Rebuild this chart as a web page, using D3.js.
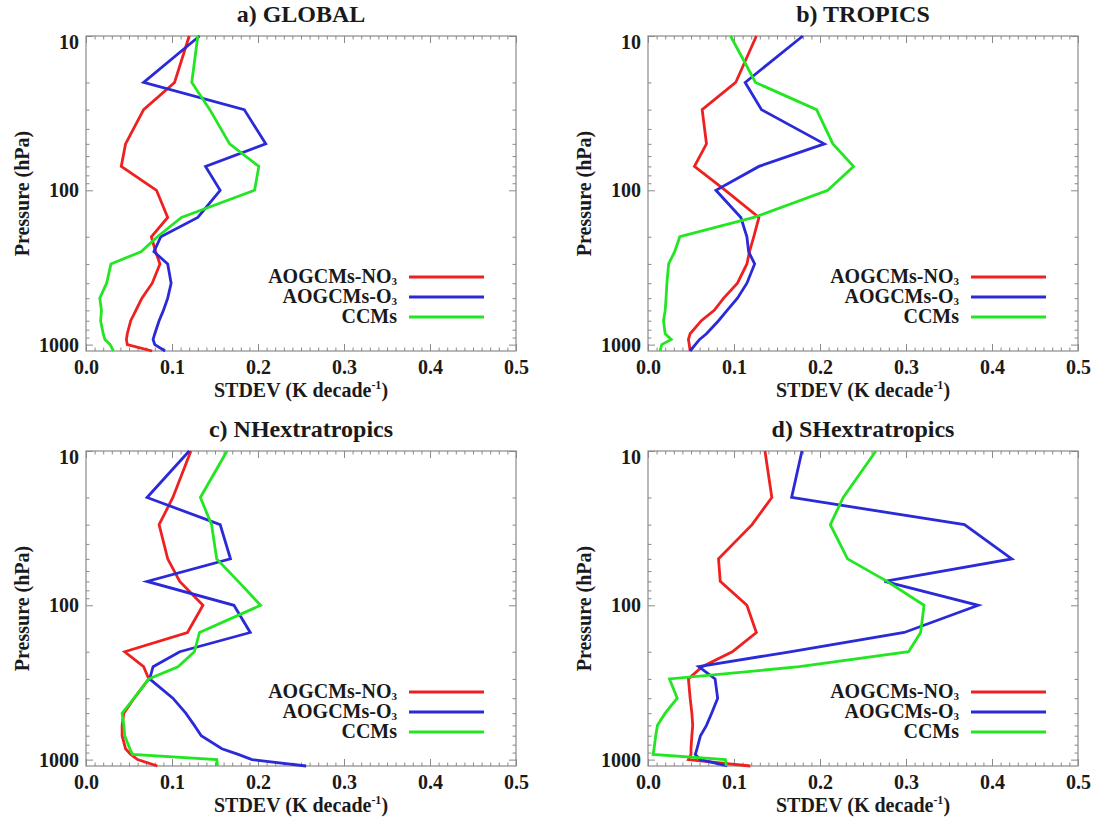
<!DOCTYPE html>
<html>
<head>
<meta charset="utf-8">
<script src="https://cdn.jsdelivr.net/npm/d3@7"></script>
<style>
  body { margin: 0; background: #fff; }
  svg text { font-family: "Liberation Serif", "Times New Roman", serif; font-weight: bold; fill: #1a1a1a; }
</style>
</head>
<body>
<script>
// pressure levels (hPa); last level is the surface, drawn at the bottom of the frame
var levels = [10, 20, 30, 50, 70, 100, 150, 200, 250, 300, 400, 500, 600, 700, 850, 925, 1000, 1100];

var seriesNames = ["AOGCMs-NO", "AOGCMs-O", "CCMs"];
var seriesSubs = ["3", "3", ""];
var seriesColors = ["#ee2020", "#2a2ad8", "#22e622"];

// a) GLOBAL
var globalNO3 = [0.120, 0.103, 0.067, 0.046, 0.041, 0.082, 0.095, 0.076, 0.081, 0.086, 0.077, 0.065, 0.058, 0.052, 0.048, 0.047, 0.048, 0.077];
var globalO3  = [0.132, 0.067, 0.184, 0.209, 0.139, 0.156, 0.130, 0.087, 0.079, 0.095, 0.099, 0.095, 0.090, 0.085, 0.080, 0.078, 0.080, 0.092];
var globalCCM = [0.130, 0.123, 0.144, 0.167, 0.201, 0.196, 0.111, 0.083, 0.064, 0.029, 0.024, 0.016, 0.018, 0.017, 0.020, 0.022, 0.028, 0.032];

// b) TROPICS
var tropNO3 = [0.126, 0.102, 0.063, 0.068, 0.054, 0.090, 0.129, 0.123, 0.118, 0.115, 0.104, 0.088, 0.077, 0.062, 0.049, 0.047, 0.048, 0.049];
var tropO3  = [0.180, 0.113, 0.132, 0.205, 0.129, 0.079, 0.108, 0.115, 0.117, 0.124, 0.115, 0.104, 0.092, 0.082, 0.068, 0.060, 0.055, 0.049];
var tropCCM = [0.096, 0.125, 0.196, 0.215, 0.239, 0.209, 0.123, 0.037, 0.031, 0.024, 0.022, 0.021, 0.020, 0.018, 0.020, 0.027, 0.016, 0.014];

// c) NHextratropics
var nhNO3 = [0.122, 0.101, 0.085, 0.095, 0.109, 0.136, 0.118, 0.045, 0.067, 0.073, 0.056, 0.044, 0.042, 0.042, 0.046, 0.052, 0.060, 0.083];
var nhO3  = [0.120, 0.071, 0.156, 0.168, 0.071, 0.172, 0.191, 0.109, 0.078, 0.074, 0.101, 0.116, 0.126, 0.134, 0.158, 0.177, 0.193, 0.256];
var nhCCM = [0.164, 0.133, 0.146, 0.152, 0.177, 0.203, 0.132, 0.126, 0.107, 0.073, 0.056, 0.042, 0.044, 0.045, 0.051, 0.054, 0.152, 0.153];

// d) SHextratropics
var shNO3 = [0.136, 0.144, 0.121, 0.082, 0.084, 0.115, 0.126, 0.098, 0.063, 0.047, 0.049, 0.051, 0.052, 0.051, 0.050, 0.050, 0.047, 0.119];
var shO3  = [0.179, 0.167, 0.368, 0.423, 0.275, 0.384, 0.298, 0.165, 0.059, 0.078, 0.081, 0.074, 0.068, 0.061, 0.057, 0.055, 0.061, 0.092];
var shCCM = [0.265, 0.227, 0.212, 0.232, 0.278, 0.321, 0.317, 0.303, 0.176, 0.025, 0.034, 0.020, 0.011, 0.009, 0.007, 0.006, 0.090, 0.091];

var panelTitles = ["a) GLOBAL", "b) TROPICS", "c) NHextratropics", "d) SHextratropics"];
var panelData = [
  [globalNO3, globalO3, globalCCM],
  [tropNO3, tropO3, tropCCM],
  [nhNO3, nhO3, nhCCM],
  [shNO3, shO3, shCCM]
];

var xMajor = [0, 0.1, 0.2, 0.3, 0.4, 0.5];
var yMajor = [10, 100, 1000];

var width = 1096, height = 819;
var pw = 430, ph = 315;
var origins = [[86, 36], [648, 36], [86, 451], [648, 451]];

var svg = d3.select("body").append("svg")
    .attr("width", width)
    .attr("height", height);

var x = d3.scaleLinear().domain([0, 0.5]).range([0, pw]);
var y = d3.scaleLog().domain([10, 1100]).range([0, ph]);

var xMinor = d3.range(0, 51).map(function(i) { return i / 100; })
    .filter(function(v) { return Math.round(v * 100) % 10 != 0; });
var yMinor = [];
[10, 100].forEach(function(d) {
  for (var k = 2; k <= 9; k++) yMinor.push(d * k);
});

var line = d3.line()
    .x(function(d) { return x(d[0]); })
    .y(function(d) { return y(d[1]); });

panelData.forEach(function(series, i) {
  var g = svg.append("g")
      .attr("transform", "translate(" + origins[i][0] + "," + origins[i][1] + ")");

  // ticks pointing inward on all four sides
  function ticks(axis, tx, ty, vals, size, fmt) {
    var a = g.append("g")
        .attr("transform", "translate(" + tx + "," + ty + ")")
        .call(axis.tickValues(vals).tickSize(-size).tickFormat(fmt));
    a.select(".domain").remove();
    a.selectAll("line").attr("stroke", "#8a8a8a").attr("stroke-width", 1);
    return a;
  }
  var none = function() { return ""; };
  var fx = d3.format(".1f");

  var xb = ticks(d3.axisBottom(x).tickPadding(9), 0, ph, xMajor, 7, fx);
  ticks(d3.axisBottom(x), 0, ph, xMinor, 3.5, none);
  ticks(d3.axisTop(x), 0, 0, xMajor, 7, none);
  ticks(d3.axisTop(x), 0, 0, xMinor, 3.5, none);
  var yl = ticks(d3.axisLeft(y).tickPadding(7), 0, 0, yMajor, 7, function(d) { return d; });
  ticks(d3.axisLeft(y), 0, 0, yMinor, 3.5, none);
  ticks(d3.axisRight(y), pw, 0, yMajor, 7, none);
  ticks(d3.axisRight(y), pw, 0, yMinor, 3.5, none);

  xb.selectAll("text").attr("font-size", 20).attr("fill", "#1a1a1a")
    .style("font-family", "Liberation Serif").style("font-weight", "bold");
  yl.selectAll("text").attr("font-size", 20).attr("fill", "#1a1a1a")
    .style("font-family", "Liberation Serif").style("font-weight", "bold")
    .attr("dy", function(d) { return d == 10 ? "0.62em" : "0.32em"; });

  g.append("rect")
      .attr("width", pw)
      .attr("height", ph)
      .attr("fill", "none")
      .attr("stroke", "#8a8a8a")
      .attr("stroke-width", 1.2);

  // profiles
  series.forEach(function(vals, s) {
    g.append("path")
        .datum(vals.map(function(v, j) { return [v, levels[j]]; }))
        .attr("fill", "none")
        .attr("stroke", seriesColors[s])
        .attr("stroke-width", 2.8)
        .attr("stroke-linejoin", "miter")
        .attr("d", line);
  });

  // legend
  seriesNames.forEach(function(name, s) {
    var ly = 241 + s * 20;
    var t = g.append("text")
        .attr("x", 311)
        .attr("y", ly + 6)
        .attr("text-anchor", "end")
        .attr("font-size", 20)
        .text(name);
    if (seriesSubs[s]) {
      t.append("tspan").attr("dy", 2).attr("font-size", 11).text(seriesSubs[s]);
    }
    g.append("line")
        .attr("x1", 323).attr("x2", 398)
        .attr("y1", ly).attr("y2", ly)
        .attr("stroke", seriesColors[s])
        .attr("stroke-width", 2.8);
  });

  // titles
  g.append("text")
      .attr("x", pw / 2)
      .attr("y", -14)
      .attr("text-anchor", "middle")
      .attr("font-size", 24)
      .text(panelTitles[i]);

  var xt = g.append("text")
      .attr("x", pw / 2)
      .attr("y", ph + 46)
      .attr("text-anchor", "middle")
      .attr("font-size", 20)
      .text("STDEV (K decade");
  xt.append("tspan").attr("dy", -8).attr("font-size", 12).text("-1");
  xt.append("tspan").attr("dy", 8).text(")");

  g.append("text")
      .attr("transform", "translate(-57," + (ph / 2) + ") rotate(-90)")
      .attr("text-anchor", "middle")
      .attr("font-size", 20)
      .text("Pressure (hPa)");
});
</script>
</body>
</html>
